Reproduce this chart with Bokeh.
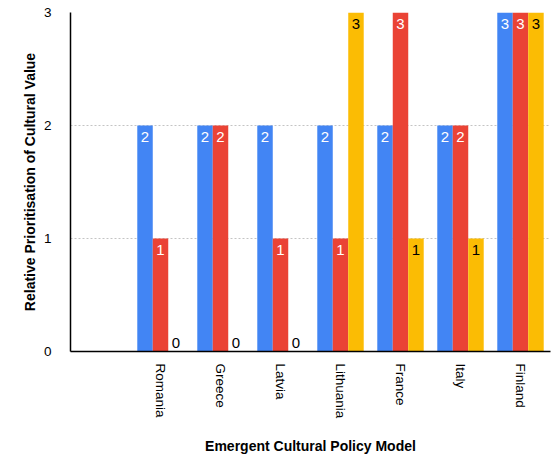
from bokeh.plotting import figure
from bokeh.models import FactorRange, Range1d, ColumnDataSource, FixedTicker
from bokeh.transform import dodge
from bokeh.core.properties import value
from bokeh.embed import file_html
from bokeh.resources import INLINE

# Category axis: a leading blank slot, then the policy models
categories = [" ", "Romania", "Greece", "Latvia", "Lithuania", "France", "Italy", "Finland"]
models = ["Romania", "Greece", "Latvia", "Lithuania", "France", "Italy", "Finland"]

# Three value dimensions per model
blue_vals = [2, 2, 2, 2, 2, 2, 3]
red_vals = [1, 2, 1, 1, 3, 2, 3]
yellow_vals = [0, 0, 0, 3, 1, 1, 3]

y_ticks = [0, 1, 2, 3]

FONT = "Liberation Sans"
BAR_W = 0.258

series = [
    (blue_vals, "#4285F4", -BAR_W, "white"),
    (red_vals, "#EA4335", 0.0, "white"),
    (yellow_vals, "#FBBC04", BAR_W, "black"),
]

p = figure(
    width=556, height=457,
    x_range=FactorRange(factors=categories),
    y_range=Range1d(0, 3),
    output_backend="svg", toolbar_location=None,
    min_border_left=70, min_border_right=6,
    min_border_top=12, min_border_bottom=106,
)
p.outline_line_color = None
p.background_fill_color = "white"
p.border_fill_color = "white"

# grid first so bars sit on top of it
p.xgrid.grid_line_color = None
p.ygrid.ticker = FixedTicker(ticks=[1, 2, 3])
p.ygrid.grid_line_color = "#c4c4c4"
p.ygrid.grid_line_dash = "2 2"
p.ygrid.grid_line_width = 1

for vals, color, off, label_color in series:
    src = ColumnDataSource(dict(cat=models, val=vals))
    p.vbar(x=dodge("cat", off, range=p.x_range), top="val", bottom=0,
           width=BAR_W, fill_color=color, line_color=None, source=src)

    # value labels: inside the top of non-zero bars, just above the axis for zeros
    nz = [(c, v) for c, v in zip(models, vals) if v != 0]
    zz = [(c, v) for c, v in zip(models, vals) if v == 0]
    if nz:
        s_nz = ColumnDataSource(dict(cat=[c for c, _ in nz], val=[v for _, v in nz],
                                     label=[str(v) for _, v in nz]))
        p.text(x=dodge("cat", off, range=p.x_range), y="val", text="label", source=s_nz,
               text_align="center", text_baseline="top", y_offset=6,
               text_color=label_color, text_font=value(FONT), text_font_size="15px")
    if zz:
        s_z = ColumnDataSource(dict(cat=[c for c, _ in zz], val=[v for _, v in zz],
                                    label=[str(v) for _, v in zz]))
        p.text(x=dodge("cat", off, range=p.x_range), y="val", text="label", source=s_z,
               text_align="center", text_baseline="bottom", y_offset=-4,
               text_color="black", text_font=value(FONT), text_font_size="15px")

# y axis
p.yaxis.ticker = FixedTicker(ticks=y_ticks)
p.yaxis.axis_label = "Relative Prioritisation of Cultural Value"
p.yaxis.axis_label_text_font = FONT
p.yaxis.axis_label_text_font_style = "bold"
p.yaxis.axis_label_text_font_size = "14px"
p.yaxis.axis_label_text_color = "black"
p.yaxis.axis_label_standoff = 3
p.yaxis.major_label_text_font = FONT
p.yaxis.major_label_text_font_size = "13.5px"
p.yaxis.major_label_text_color = "black"
p.yaxis.major_label_standoff = 13
p.yaxis.major_tick_line_color = None
p.yaxis.minor_tick_line_color = None
p.yaxis.axis_line_color = "black"
p.yaxis.axis_line_width = 1.5

# x axis
p.xaxis.axis_label = "Emergent Cultural Policy Model"
p.xaxis.axis_label_text_font = FONT
p.xaxis.axis_label_text_font_style = "bold"
p.xaxis.axis_label_text_font_size = "14px"
p.xaxis.axis_label_text_color = "black"
p.xaxis.axis_label_standoff = 17
p.xaxis.major_label_orientation = "vertical"
p.xaxis.major_label_text_font = FONT
p.xaxis.major_label_text_font_size = "13.5px"
p.xaxis.major_label_text_color = "black"
p.xaxis.major_label_standoff = 6
p.xaxis.major_tick_line_color = None
p.xaxis.minor_tick_line_color = None
p.xaxis.axis_line_color = "black"
p.xaxis.axis_line_width = 1.5

open("out.html", "w").write(file_html(p, INLINE))
